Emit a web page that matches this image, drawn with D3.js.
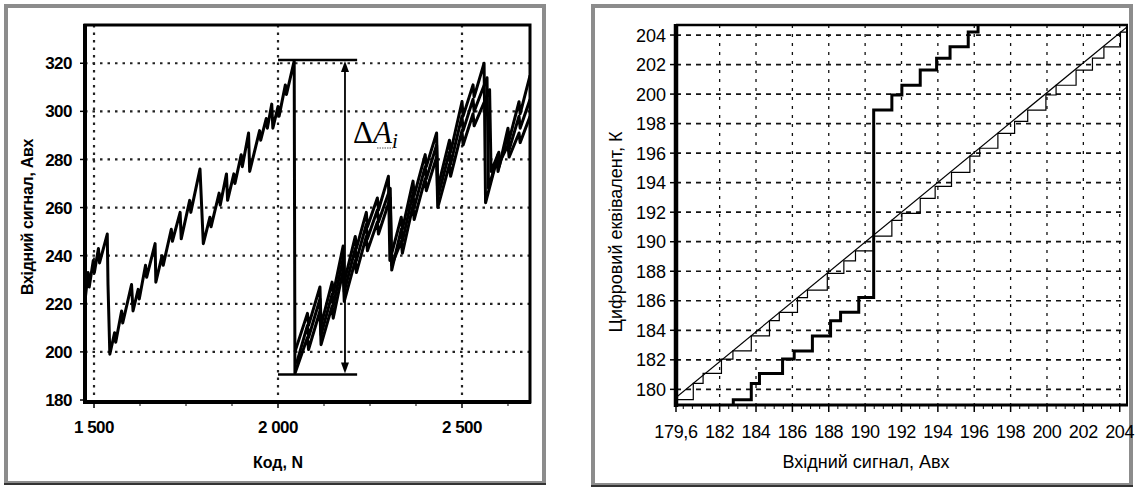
<!DOCTYPE html>
<html><head><meta charset="utf-8">
<script src="https://cdn.jsdelivr.net/npm/d3@7"></script>
<style>body{margin:0;background:#fff;}svg{display:block;}</style>
</head><body>
<svg id="c" width="1136" height="490"></svg>
<script>
// ---------- LEFT CHART DATA ----------
const leftXTicks = [1500, 2000, 2500];
const leftXTickLabels = ["1 500", "2 000", "2 500"];
const leftXMinor = [1625, 1750, 1875, 2125, 2250, 2375, 2625];
const leftYTicks = [180, 200, 220, 240, 260, 280, 300, 320];
const leftYGrid = [200, 220, 240, 260, 280, 300, 320];
// main signal (before the big drop and the lower branch after it) [code N, signal]
const signalMain = [[1476,222],[1484,233],[1487,227],[1498,238],[1501,233],[1512,243],[1515,237],[1536,249],[1538,228],[1543,199],[1556,208],[1559,204],[1575,217],[1578,212],[1602,228],[1606,217],[1620,226],[1623,222],[1640,236],[1643,231],[1666,245],[1668,229],[1685,240],[1688,236],[1710,251],[1713,246],[1734,258],[1737,247],[1760,263],[1763,258],[1788,276],[1797,245],[1815,256],[1818,252],[1840,266],[1843,261],[1860,274],[1863,263],[1880,274],[1883,270],[1900,282],[1903,277],[1920,291],[1923,275],[1950,292],[1953,288],[1968,297],[1971,293],[1983,303],[1986,293],[2000,302],[2003,298],[2020,311],[2023,307],[2044,321],[2046,191],[2080,206],[2083,201],[2114,217],[2117,203],[2147,219],[2150,214],[2177,234],[2180,221],[2210,238],[2213,233],[2240,248],[2243,242],[2270,254],[2273,249],[2305,264],[2309,236],[2335,246],[2338,241],[2367,261],[2370,255],[2400,272],[2403,267],[2431,281],[2434,260],[2466,278],[2469,273],[2500,292],[2503,286],[2530,299],[2533,294],[2575,309],[2579,275],[2600,283],[2603,279],[2625,286],[2628,281],[2655,291],[2658,287],[2685,298]];
const signalMid = [[2050,195],[2080,211],[2083,206],[2114,222],[2117,207],[2147,224],[2150,219],[2177,239],[2180,225],[2210,243],[2213,238],[2240,253],[2243,247],[2270,259],[2273,254],[2305,268],[2309,234],[2335,251],[2338,246],[2367,266],[2370,260],[2400,277],[2403,272],[2431,286],[2434,264],[2466,283],[2469,278],[2500,298],[2503,292],[2530,305],[2533,300],[2568,314],[2572,268],[2598,282],[2601,277],[2625,290],[2628,284],[2655,298],[2658,293],[2685,305]];
const signalUpper = [[2046,200],[2080,216],[2083,211],[2114,227],[2117,211],[2147,229],[2150,224],[2177,244],[2180,229],[2210,248],[2213,243],[2240,258],[2243,252],[2270,264],[2273,259],[2300,273],[2304,238],[2335,256],[2338,251],[2367,271],[2370,265],[2400,282],[2403,277],[2431,291],[2434,268],[2466,288],[2469,283],[2500,304],[2503,298],[2530,311],[2533,306],[2560,320],[2564,262],[2595,280],[2598,275],[2625,293],[2628,288],[2655,304],[2658,299],[2685,315]];
const deltaTop = 321.4, deltaBottom = 190.6;
const deltaSpan = [2000, 2215];
const deltaArrowX = 2182;

// ---------- RIGHT CHART DATA ----------
const rightXTicks = [179.6, 182, 184, 186, 188, 190, 192, 194, 196, 198, 200, 202, 204];
const rightXTickLabels = ["179,6","182","184","186","188","190","192","194","196","198","200","202","204"];
const rightXGrid = [182, 184, 186, 188, 190, 192, 194, 196, 198, 200, 202, 204];
const rightXMinor = [180,180.5,181,181.5,182.5,183,183.5,184.5,185,185.5,186.5,187,187.5,188.5,189,189.5,190.5,191,191.5,192.5,193,193.5,194.5,195,195.5,196.5,197,197.5,198.5,199,199.5,200.5,201,201.5,202.5,203,203.5];
const rightYTicks = [180, 182, 184, 186, 188, 190, 192, 194, 196, 198, 200, 202, 204];
const idealLine = [[179.6,179.45],[204.4,204.55]];
const thinStepX = [179.6,180.55,181.09,182.10,182.73,183.74,184.74,185.28,186.28,186.83,187.92,188.83,189.47,190.47,191.47,192.02,193.03,193.85,194.75,195.76,196.30,197.30,198.22,198.94,199.94,200.50,201.60,202.50,203.13,204.04,204.4];
const thinStepY = [179.30,180.40,181.08,182.05,182.60,183.62,184.65,185.22,186.22,186.72,187.85,188.70,189.38,190.38,191.45,191.92,192.94,193.75,194.70,195.80,196.33,197.34,198.15,198.92,199.94,200.60,201.63,202.43,203.20,204.20,204.20];
const thickStepX = [182.75,182.75,183.74,184.19,185.46,186.10,187.10,188.10,188.65,189.65,190.47,191.47,192.02,193.03,193.93,194.67,195.67,196.21,196.6];
const thickStepY = [178.6,179.30,180.40,181.08,182.05,182.60,183.62,184.65,185.22,186.22,198.92,199.94,200.60,201.63,202.43,203.20,204.20,205.2,205.2];

// ---------- DRAW ----------
const svg = d3.select("#c");
const FONT = "'Liberation Sans', Arial, Helvetica, sans-serif";

// panel borders
svg.append("rect").attr("x",6).attr("y",6).attr("width",538).attr("height",477)
  .attr("fill","none").attr("stroke","#8c8c8c").attr("stroke-width",4);
svg.append("line").attr("x1",4).attr("x2",546).attr("y1",484).attr("y2",484).attr("stroke","#333").attr("stroke-width",2);
svg.append("rect").attr("x",593).attr("y",6).attr("width",538).attr("height",479)
  .attr("fill","none").attr("stroke","#8c8c8c").attr("stroke-width",4);
svg.append("line").attr("x1",591).attr("x2",1133).attr("y1",486).attr("y2",486).attr("stroke","#333").attr("stroke-width",2);

// ===== LEFT =====
const xL = d3.scaleLinear().domain([1475.5, 2684.8]).range([85, 530]);
const yL = d3.scaleLinear().domain([179.17, 335.9]).range([402, 25]);
const gL = svg.append("g");
svg.append("clipPath").attr("id","clipL").append("rect").attr("x",85).attr("y",25).attr("width",445).attr("height",377);

// grid
gL.selectAll(".hg").data(leftYGrid).join("line")
  .attr("x1",85).attr("x2",530).attr("y1",d=>yL(d)).attr("y2",d=>yL(d))
  .attr("stroke","#222").attr("stroke-width",2.2).attr("stroke-dasharray","2.5,5");
gL.selectAll(".vg").data(leftXTicks).join("line")
  .attr("x1",d=>xL(d)).attr("x2",d=>xL(d)).attr("y1",25).attr("y2",402)
  .attr("stroke","#222").attr("stroke-width",2.2).attr("stroke-dasharray","2.5,5");

// data
const lineL = d3.line().x(d=>xL(d[0])).y(d=>yL(d[1]));
const dataG = gL.append("g").attr("clip-path","url(#clipL)");
[signalMain, signalMid, signalUpper].forEach(s=>{
  dataG.append("path").attr("d",lineL(s)).attr("fill","none").attr("stroke","#000")
    .attr("stroke-width",3).attr("stroke-linejoin","round");
});

// delta annotation
gL.append("line").attr("x1",xL(deltaSpan[0])).attr("x2",xL(deltaSpan[1])).attr("y1",yL(deltaTop)).attr("y2",yL(deltaTop)).attr("stroke","#000").attr("stroke-width",2.5);
gL.append("line").attr("x1",xL(deltaSpan[0])).attr("x2",xL(deltaSpan[1])).attr("y1",yL(deltaBottom)).attr("y2",yL(deltaBottom)).attr("stroke","#000").attr("stroke-width",2.5);
const ax = xL(deltaArrowX), ayT = yL(deltaTop), ayB = yL(deltaBottom);
gL.append("line").attr("x1",ax).attr("x2",ax).attr("y1",ayT+8).attr("y2",ayB-8).attr("stroke","#000").attr("stroke-width",1.8);
gL.append("path").attr("d",`M${ax},${ayT+1}L${ax-4},${ayT+12}L${ax+4},${ayT+12}Z`).attr("fill","#000");
gL.append("path").attr("d",`M${ax},${ayB-1}L${ax-4},${ayB-12}L${ax+4},${ayB-12}Z`).attr("fill","#000");
const dt = gL.append("text").attr("x",353).attr("y",143).attr("font-family","'Liberation Serif','Times New Roman',serif").attr("font-size",31).attr("fill","#000");
dt.append("tspan").text("Δ");
dt.append("tspan").attr("font-style","italic").text("A");
dt.append("tspan").attr("font-style","italic").attr("font-size",21).attr("dy",5).text("i");
gL.append("line").attr("x1",377).attr("x2",393).attr("y1",148).attr("y2",148).attr("stroke","#555").attr("stroke-width",1).attr("stroke-dasharray","1.5,1");

// frame
gL.append("path").attr("d","M85,402L85,25L530,25L530,402Z").attr("fill","none").attr("stroke","#000").attr("stroke-width",3);
gL.append("line").attr("x1",84).attr("x2",531).attr("y1",402).attr("y2",402).attr("stroke","#000").attr("stroke-width",4);
gL.append("line").attr("x1",85).attr("x2",85).attr("y1",24).attr("y2",404).attr("stroke","#000").attr("stroke-width",4);

// ticks
gL.selectAll(".yt").data(leftYTicks).join("line").attr("x1",80).attr("x2",85).attr("y1",d=>yL(d)).attr("y2",d=>yL(d)).attr("stroke","#000").attr("stroke-width",1.5);
gL.selectAll(".ytl").data(leftYTicks).join("text").attr("x",72).attr("y",d=>yL(d)).attr("dy","0.36em")
  .attr("text-anchor","end").attr("font-family",FONT).attr("font-weight","bold").attr("font-size",17).attr("letter-spacing","-0.5").text(d=>d);
gL.selectAll(".xt").data(leftXTicks).join("line").attr("x1",d=>xL(d)).attr("x2",d=>xL(d)).attr("y1",402).attr("y2",408).attr("stroke","#000").attr("stroke-width",1.5);
gL.selectAll(".xm").data(leftXMinor).join("line").attr("x1",d=>xL(d)).attr("x2",d=>xL(d)).attr("y1",402).attr("y2",406).attr("stroke","#000").attr("stroke-width",1);
gL.selectAll(".xtl").data(leftXTicks).join("text").attr("x",d=>xL(d)).attr("y",433)
  .attr("text-anchor","middle").attr("font-family",FONT).attr("font-weight","bold").attr("font-size",17).attr("letter-spacing","-0.5").text((d,i)=>leftXTickLabels[i]);
gL.append("text").attr("x",278).attr("y",468).attr("text-anchor","middle").attr("font-family",FONT).attr("font-weight","bold").attr("font-size",16).text("Код, N");
gL.append("text").attr("transform","translate(33,217) rotate(-90)").attr("text-anchor","middle").attr("font-family",FONT).attr("font-weight","bold").attr("font-size",16).attr("letter-spacing","-0.3").text("Вхідний сигнал, Авх");

// ===== RIGHT =====
const xR = d3.scaleLinear().domain([179.6, 204.4]).range([676, 1127]);
const yR = d3.scaleLinear().domain([178.94, 204.68]).range([405, 25]);
const gR = svg.append("g");
svg.append("clipPath").attr("id","clipR").append("rect").attr("x",676).attr("y",25).attr("width",451).attr("height",380);

gR.selectAll(".hg").data(rightYTicks).join("line")
  .attr("x1",676).attr("x2",1127).attr("y1",d=>yR(d)).attr("y2",d=>yR(d))
  .attr("stroke","#111").attr("stroke-width",1.7).attr("stroke-dasharray","5,5");
gR.selectAll(".vg").data(rightXGrid).join("line")
  .attr("x1",d=>xR(d)).attr("x2",d=>xR(d)).attr("y1",25).attr("y2",405)
  .attr("stroke","#111").attr("stroke-width",1.3).attr("stroke-dasharray","3,6");

const dR = gR.append("g").attr("clip-path","url(#clipR)");
const lineR = d3.line().x(d=>xR(d[0])).y(d=>yR(d[1]));
const stepR = d3.line().x(d=>xR(d[0])).y(d=>yR(d[1])).curve(d3.curveStepAfter);
dR.append("path").attr("d",lineR(idealLine)).attr("fill","none").attr("stroke","#000").attr("stroke-width",1.2);
dR.append("path").attr("d",stepR(thinStepX.map((x,i)=>[x,thinStepY[i]]))).attr("fill","none").attr("stroke","#000").attr("stroke-width",1.2);
dR.append("path").attr("d",stepR(thickStepX.map((x,i)=>[x,thickStepY[i]]))).attr("fill","none").attr("stroke","#000").attr("stroke-width",3);

// frame
gR.append("line").attr("x1",676).attr("x2",1128).attr("y1",25).attr("y2",25).attr("stroke","#000").attr("stroke-width",2.5);
gR.append("line").attr("x1",1127).attr("x2",1127).attr("y1",24).attr("y2",406).attr("stroke","#000").attr("stroke-width",2);
gR.append("line").attr("x1",674).attr("x2",1128).attr("y1",405).attr("y2",405).attr("stroke","#000").attr("stroke-width",3);
gR.append("line").attr("x1",676).attr("x2",676).attr("y1",24).attr("y2",407).attr("stroke","#000").attr("stroke-width",4.5);

gR.selectAll(".yt").data(rightYTicks).join("line").attr("x1",670).attr("x2",676).attr("y1",d=>yR(d)).attr("y2",d=>yR(d)).attr("stroke","#000").attr("stroke-width",1.5);
gR.selectAll(".ytl").data(rightYTicks).join("text").attr("x",666).attr("y",d=>yR(d)).attr("dy","0.36em")
  .attr("text-anchor","end").attr("font-family",FONT).attr("font-size",18).text(d=>d);
gR.selectAll(".xt").data(rightXTicks).join("line").attr("x1",d=>xR(d)).attr("x2",d=>xR(d)).attr("y1",405).attr("y2",412).attr("stroke","#000").attr("stroke-width",1.5);
gR.selectAll(".xm").data(rightXMinor).join("line").attr("x1",d=>xR(d)).attr("x2",d=>xR(d)).attr("y1",405).attr("y2",409).attr("stroke","#000").attr("stroke-width",1);
gR.selectAll(".xtl").data(rightXTicks).join("text").attr("x",d=>xR(d)).attr("y",438)
  .attr("text-anchor","middle").attr("font-family",FONT).attr("font-size",18).attr("letter-spacing","-0.3").text((d,i)=>rightXTickLabels[i]);
gR.append("text").attr("x",866).attr("y",468).attr("text-anchor","middle").attr("font-family",FONT).attr("font-size",18).text("Вхідний сигнал, Авх");
gR.append("text").attr("transform","translate(622,232) rotate(-90)").attr("text-anchor","middle").attr("font-family",FONT).attr("font-size",18).text("Цифровий еквівалент, К");
</script>
</body></html>
